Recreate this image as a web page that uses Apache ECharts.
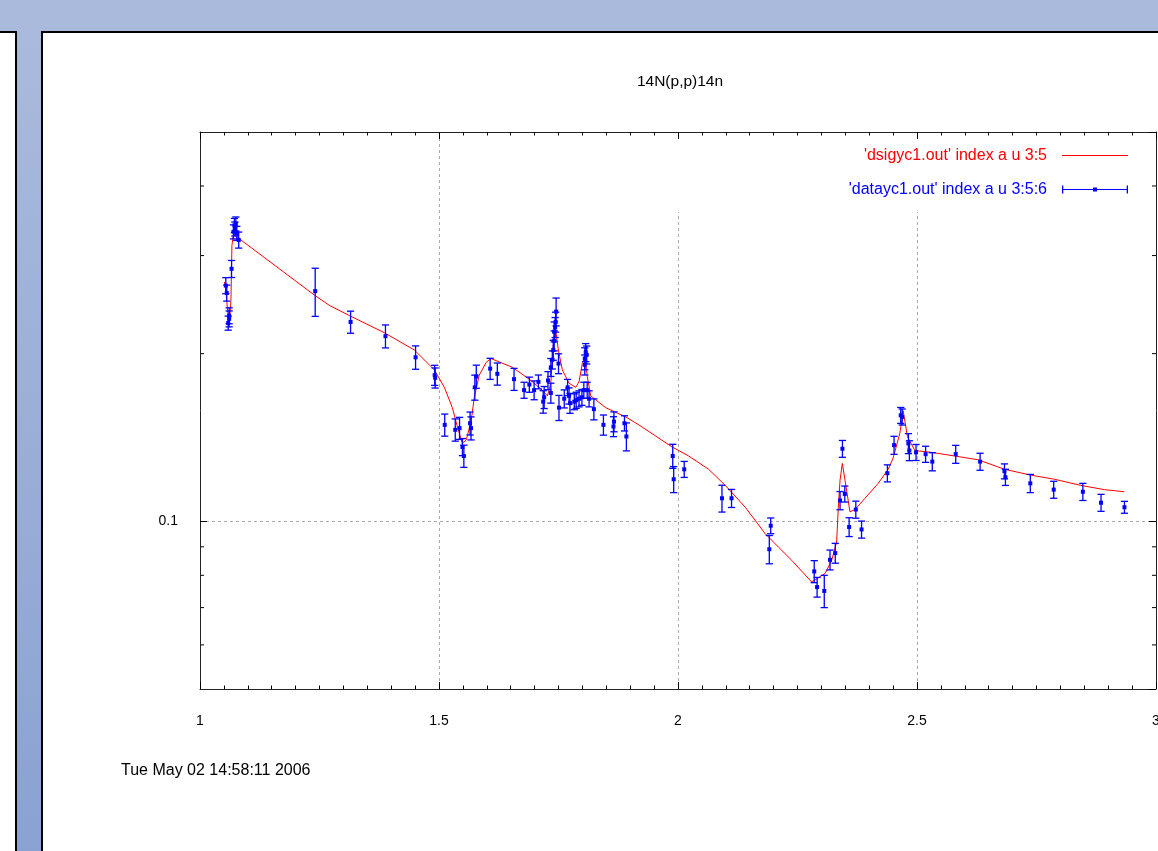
<!DOCTYPE html>
<html>
<head>
<meta charset="utf-8">
<title>14N(p,p)14n</title>
<script src="https://cdn.jsdelivr.net/npm/echarts@6/dist/echarts.min.js"></script>
<style>
html,body{margin:0;padding:0;width:1158px;height:851px;overflow:hidden;background:#aabadc;}
#leftPanel{position:absolute;left:0;top:31px;width:15px;height:820px;background:#fff;border-top:2px solid #000;border-right:2px solid #000;}
#strip{position:absolute;left:17px;top:33px;width:24px;height:818px;background:linear-gradient(#aabadc,#8aa2d2);}
#mainPanel{position:absolute;left:41px;top:31px;width:1117px;height:820px;background:#fff;border-top:2px solid #000;border-left:2px solid #000;}
#main{position:absolute;left:0;top:0;width:1158px;height:851px;}
</style>
</head>
<body>
<div id="leftPanel"></div>
<div id="strip"></div>
<div id="mainPanel"></div>
<div id="main"></div>
<script>
// legend names, as gnuplot printed them
var modelName = "'dsigyc1.out' index a u 3:5";
var dataName = "'datayc1.out' index a u 3:5:6";

// measured points: energy, cross section, error
var ptX = [1.054, 1.056, 1.059, 1.061, 1.061, 1.066, 1.070, 1.072, 1.073, 1.075, 1.077, 1.081,
    1.241, 1.315, 1.388, 1.451, 1.491, 1.492, 1.512, 1.534, 1.543, 1.549, 1.552, 1.565, 1.567,
    1.575, 1.578, 1.607, 1.622, 1.657, 1.678, 1.689, 1.699, 1.708, 1.718, 1.720, 1.728, 1.734,
    1.734, 1.737, 1.739, 1.741, 1.741, 1.743, 1.744, 1.745, 1.750, 1.751, 1.762, 1.769, 1.772,
    1.774, 1.783, 1.787, 1.793, 1.799, 1.803, 1.805, 1.805, 1.807, 1.809, 1.810, 1.814, 1.824,
    1.844, 1.865, 1.866, 1.888, 1.892, 1.989, 1.991, 2.013, 2.092, 2.112, 2.191, 2.194,
    2.285, 2.291, 2.306, 2.318, 2.329, 2.339, 2.344, 2.349, 2.358, 2.372, 2.384, 2.438, 2.452,
    2.466, 2.469, 2.482, 2.484, 2.498, 2.518, 2.532, 2.581, 2.632, 2.683, 2.685, 2.737, 2.786,
    2.847, 2.885, 2.934];
var ptY = [0.265, 0.257, 0.227, 0.234, 0.231, 0.284, 0.331, 0.340, 0.335, 0.342, 0.329, 0.320,
    0.259, 0.228, 0.215, 0.197, 0.183, 0.181, 0.149, 0.146, 0.147, 0.136, 0.131, 0.150, 0.147,
    0.174, 0.182, 0.188, 0.184, 0.180, 0.172, 0.176, 0.172, 0.178, 0.164, 0.167, 0.179, 0.189,
    0.170, 0.195, 0.203, 0.211, 0.219, 0.223, 0.228, 0.238, 0.192, 0.160, 0.166, 0.174, 0.168,
    0.163, 0.164, 0.165, 0.166, 0.167, 0.172, 0.196, 0.191, 0.201, 0.199, 0.172, 0.166, 0.159,
    0.149, 0.148, 0.151, 0.150, 0.142, 0.131, 0.119, 0.124, 0.110, 0.110, 0.0891, 0.0982,
    0.0813, 0.0762, 0.0750, 0.0853, 0.0877, 0.109, 0.135, 0.112, 0.0977, 0.105, 0.0967, 0.122, 0.137,
    0.155, 0.154, 0.138, 0.134, 0.133, 0.132, 0.128, 0.132, 0.128, 0.123, 0.120, 0.117, 0.114,
    0.113, 0.108, 0.106];
var ptErr = [0.0088, 0.0085, 0.0066, 0.0077, 0.0076, 0.0100, 0.0096, 0.0098, 0.0097, 0.0099, 0.0095, 0.0106,
    0.0257, 0.0104, 0.0102, 0.0095, 0.0076, 0.0075, 0.0068, 0.0067, 0.0067, 0.0048, 0.0060, 0.0071, 0.0070,
    0.0090, 0.0087, 0.0082, 0.0084, 0.0082, 0.0057, 0.0055, 0.0067, 0.0051, 0.0076, 0.0076, 0.0067, 0.0070,
    0.0070, 0.0073, 0.0084, 0.0087, 0.0090, 0.0092, 0.0094, 0.0137, 0.0079, 0.0083, 0.0062, 0.0058, 0.0056,
    0.0067, 0.0054, 0.0055, 0.0055, 0.0055, 0.0057, 0.0089, 0.0079, 0.0075, 0.0074, 0.0057, 0.0055, 0.0069,
    0.0062, 0.0061, 0.0062, 0.0047, 0.0082, 0.0065, 0.0064, 0.0041, 0.0061, 0.0041, 0.0052, 0.0032,
    0.0037, 0.0031, 0.0050, 0.0035, 0.0036, 0.0041, 0.0047, 0.0037, 0.0038, 0.0037, 0.0034, 0.0043, 0.0051,
    0.0051, 0.0051, 0.0057, 0.0055, 0.0044, 0.0044, 0.0048, 0.0049, 0.0045, 0.0038, 0.0040, 0.0044, 0.0040,
    0.0040, 0.0038, 0.0026];

// fitted curve
var modelX = [1.051, 1.054, 1.0595, 1.0616, 1.0647, 1.0668, 1.0699, 1.073, 1.0793, 1.2414, 1.2713,
    1.313, 1.386, 1.4486, 1.4903, 1.5112, 1.5279, 1.5383, 1.5488, 1.5571, 1.5676, 1.5738, 1.5842,
    1.5989, 1.6087, 1.6537, 1.6886, 1.713, 1.7268, 1.7339, 1.7387, 1.7443, 1.7497, 1.7581, 1.772,
    1.786, 1.7929, 1.7998, 1.8054, 1.8102, 1.8173, 1.8486, 1.8904, 1.9181, 1.9876, 2.0224, 2.0641,
    2.099, 2.1407, 2.1825, 2.2102, 2.238, 2.2797, 2.3077, 2.3215, 2.3319, 2.3354, 2.339, 2.3438,
    2.3494, 2.3598, 2.3703, 2.3912, 2.4189, 2.4397, 2.4502, 2.4642, 2.471, 2.48, 2.4954, 2.5301,
    2.5789, 2.6275, 2.6833, 2.7388, 2.7876, 2.8431, 2.8919, 2.9337];
var modelY = [0.269, 0.260, 0.230, 0.227, 0.249, 0.313, 0.327, 0.329, 0.323, 0.254, 0.244,
    0.234, 0.218, 0.203, 0.187, 0.174, 0.160, 0.148, 0.138, 0.140, 0.152, 0.167, 0.183,
    0.193, 0.196, 0.189, 0.180, 0.173, 0.168, 0.177, 0.206, 0.220, 0.203, 0.187, 0.177,
    0.174, 0.178, 0.192, 0.197, 0.182, 0.168, 0.160, 0.154, 0.149, 0.136, 0.131, 0.124,
    0.116, 0.106, 0.095, 0.0899, 0.0851, 0.0778, 0.0806, 0.0851, 0.0918, 0.106, 0.1185, 0.127,
    0.1185, 0.104, 0.105, 0.110, 0.117, 0.124, 0.130, 0.144, 0.158, 0.142, 0.134, 0.133,
    0.131, 0.129, 0.124, 0.121, 0.119, 0.116, 0.114, 0.113];

// axes
var xMin = 1, xMax = 3, xStep = 0.5;
var yMin = 0.05, yMax = 0.5;
var yMinorTicks = [0.06, 0.07, 0.08, 0.09, 0.2, 0.3, 0.4];

var font = 'Liberation Sans, Arial, sans-serif';
var blue = '#0000ff';
var red = '#ff0000';

var curve = [];
for (var i = 0; i < modelX.length; i++) curve.push([modelX[i], modelY[i]]);
var points = [];
for (var j = 0; j < ptX.length; j++) points.push([ptX[j], ptY[j], ptErr[j]]);
var minorData = [];
for (var k = 0; k < yMinorTicks.length; k++) minorData.push([xMin, yMinorTicks[k]]);

function errorBar(params, api) {
    var x = api.value(0), y = api.value(1), e = api.value(2);
    var hi = api.coord([x, y + e]);
    var lo = api.coord([x, y - e]);
    var c = api.coord([x, y]);
    var w = 3.6;
    function st() { return {stroke: blue, lineWidth: 1.3}; }
    return {
        type: 'group',
        children: [
            {type: 'line', shape: {x1: c[0], y1: hi[1], x2: c[0], y2: lo[1]}, style: st()},
            {type: 'line', shape: {x1: c[0] - w, y1: hi[1], x2: c[0] + w, y2: hi[1]}, style: st()},
            {type: 'line', shape: {x1: c[0] - w, y1: lo[1], x2: c[0] + w, y2: lo[1]}, style: st()},
            {type: 'rect', shape: {x: c[0] - 2, y: c[1] - 2, width: 4, height: 4}, style: {fill: blue}}
        ]
    };
}

// gnuplot style log minor ticks, left and right border
function minorTick(params, api) {
    var v = api.value(1);
    var l = api.coord([xMin, v]);
    var r = api.coord([xMax, v]);
    return {
        type: 'group',
        children: [
            {type: 'line', shape: {x1: l[0], y1: l[1], x2: l[0] + 4, y2: l[1]}, style: {stroke: '#000', lineWidth: 1}},
            {type: 'line', shape: {x1: r[0], y1: r[1], x2: r[0] - 4, y2: r[1]}, style: {stroke: '#000', lineWidth: 1}}
        ]
    };
}

function xAxisDef(pos, labels) {
    return {
        type: 'value', position: pos, min: xMin, max: xMax, interval: xStep, z: 5,
        axisLine: {show: true, onZero: false, lineStyle: {color: '#222', width: 1}},
        axisTick: {show: true, inside: true, length: 7, lineStyle: {color: '#000'}},
        minorTick: {show: true, splitNumber: 10, length: 3.5, lineStyle: {color: '#000'}},
        axisLabel: {show: labels, margin: 25, fontSize: 14, color: '#000', fontFamily: font},
        splitLine: {show: false}
    };
}
function yAxisDef(pos, labels) {
    return {
        type: 'log', logBase: 10, position: pos, min: yMin, max: yMax, z: 5,
        axisLine: {show: true, onZero: false, lineStyle: {color: '#222', width: 1}},
        axisTick: {show: true, inside: true, length: 7, lineStyle: {color: '#000'}},
        minorTick: {show: false},
        axisLabel: {show: labels, margin: 22, fontSize: 14, color: '#000', fontFamily: font,
            showMinLabel: false, showMaxLabel: false},
        splitLine: {show: false}
    };
}
var gridLine = {show: true, showMinLine: false, showMaxLine: false,
    lineStyle: {color: '#aaaaaa', width: 1, type: [3, 3]}};

var errIcon = 'path://M0,3.4H66V4.6H0Z M0,0H1.3V8H0Z M64.7,0H66V8H64.7Z M31,2H35V6H31Z';
var lineIcon = 'path://M0,0H66V1.1H0Z';

var chart = echarts.init(document.getElementById('main'));
chart.setOption({
    backgroundColor: 'transparent',
    animation: false,
    textStyle: {fontFamily: font},
    grid: {left: 200, top: 132, right: 2, bottom: 162, outerBoundsMode: 'none', containLabel: false},
    graphic: [
        {type: 'text', x: 680, y: 82, style: {text: '14N(p,p)14n', fill: '#000', font: '15.5px ' + font, align: 'center', verticalAlign: 'middle'}},
        {type: 'text', x: 121, y: 771, style: {text: 'Tue May 02 14:58:11 2006', fill: '#000', font: '16px ' + font, align: 'left', verticalAlign: 'middle'}}
    ],
    legend: {
        orient: 'vertical', right: 3, top: 134, align: 'right',
        padding: [13.5, 27, 14.5, 250],
        backgroundColor: '#fff', z: 3,
        itemWidth: 66, itemHeight: 8, itemGap: 18,
        selectedMode: false,
        itemStyle: {borderWidth: 0},
        textStyle: {fontSize: 16, lineHeight: 15, padding: [0, 10, 0, 0], fontFamily: font},
        data: [
            {name: modelName, icon: lineIcon, textStyle: {color: red}},
            {name: dataName, icon: errIcon, textStyle: {color: blue}}
        ]
    },
    xAxis: [
        xAxisDef('bottom', true),
        xAxisDef('top', false),
        {type: 'value', position: 'bottom', min: xMin, max: xMax, interval: xStep, z: 1,
            axisLine: {show: false}, axisTick: {show: false}, axisLabel: {show: false}, splitLine: gridLine}
    ],
    yAxis: [
        yAxisDef('left', true),
        yAxisDef('right', false),
        {type: 'log', logBase: 10, position: 'left', min: yMin, max: yMax, z: 1,
            axisLine: {show: false}, axisTick: {show: false}, axisLabel: {show: false}, splitLine: gridLine}
    ],
    series: [
        {
            name: modelName, type: 'line', data: curve, xAxisIndex: 0, yAxisIndex: 0,
            showSymbol: false, symbol: 'none', silent: true, z: 2,
            lineStyle: {color: red, width: 1}, itemStyle: {color: red}
        },
        {
            name: dataName, type: 'custom', data: points, xAxisIndex: 0, yAxisIndex: 0,
            renderItem: errorBar, encode: {x: 0, y: 1}, silent: true, z: 3,
            itemStyle: {color: blue}
        },
        {
            type: 'custom', data: minorData, xAxisIndex: 0, yAxisIndex: 0,
            renderItem: minorTick, encode: {x: 0, y: 1}, silent: true, z: 5
        }
    ]
});
</script>
</body>
</html>
